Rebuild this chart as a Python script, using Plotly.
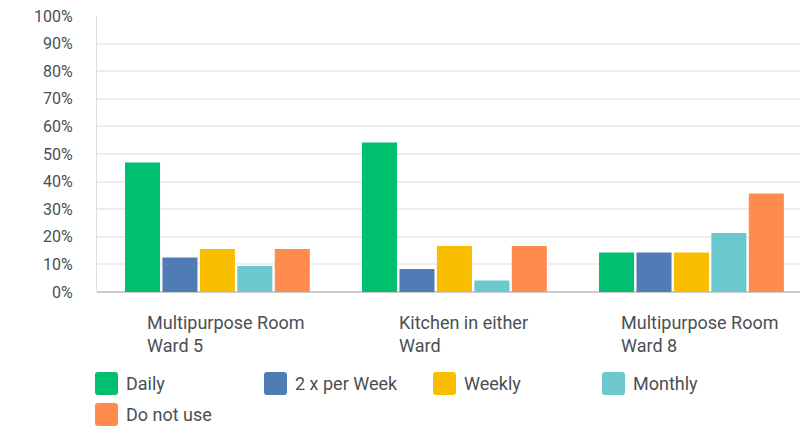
import plotly.graph_objects as go

# Survey responses: how often each room is used (% of respondents)
categories = ["Multipurpose Room<br>Ward 5", "Kitchen in either<br>Ward", "Multipurpose Room<br>Ward 8"]
series_names = ["Daily", "2 x per Week", "Weekly", "Monthly", "Do not use"]
daily = [46.9, 54.2, 14.3]
twice_weekly = [12.5, 8.3, 14.3]
weekly = [15.6, 16.7, 14.3]
monthly = [9.4, 4.2, 21.4]
do_not_use = [15.6, 16.7, 35.7]
y_ticks = list(range(0, 101, 10))
y_tick_labels = [f"{v}%" for v in y_ticks]

colors = ["#00BF6F", "#507CB6", "#F9BE00", "#6BC8CD", "#FF8B4F"]
values = [daily, twice_weekly, weekly, monthly, do_not_use]
x_idx = list(range(len(categories)))

FONT = "Roboto"
TEXT = "#4a4f55"

W, H = 800, 430
ML, MR, MT, MB = 97, 0, 16, 138
PW, PH = W - ML - MR, H - MT - MB


def px_to_paper(px, py):
    return (px - ML) / PW, (H - MB - py) / PH


fig = go.Figure()
for name, vals, col in zip(series_names, values, colors):
    fig.add_trace(go.Bar(x=x_idx, y=vals, name=name, showlegend=False,
                         marker=dict(color=col, line=dict(width=0))))

# Category labels, left-aligned two-line blocks under each group
for i, cat in enumerate(categories):
    fig.add_annotation(x=i, y=0, xref="x", yref="y", text=cat, showarrow=False,
                       xanchor="center", yanchor="top", align="left", yshift=-18, xshift=9,
                       font=dict(family=FONT, size=18, color=TEXT))

# Legend: rounded colour swatches with labels, four per row
SW = 23          # swatch size (px)
STEP_X = 169     # column spacing (px)
ROW_CY = [383.5, 414.5]
LEG_X0 = 95
r = 3
swatch_path = (f"M {r},{-SW/2} L {SW-r},{-SW/2} Q {SW},{-SW/2} {SW},{-SW/2+r} "
               f"L {SW},{SW/2-r} Q {SW},{SW/2} {SW-r},{SW/2} L {r},{SW/2} "
               f"Q 0,{SW/2} 0,{SW/2-r} L 0,{-SW/2+r} Q 0,{-SW/2} {r},{-SW/2} Z")
for k, (name, col) in enumerate(zip(series_names, colors)):
    row, c = divmod(k, 4)
    sx = LEG_X0 + c * STEP_X
    ax, ay = px_to_paper(sx, ROW_CY[row])
    fig.add_shape(type="path", xref="paper", yref="paper", xsizemode="pixel", ysizemode="pixel",
                  xanchor=ax, yanchor=ay, path=swatch_path, fillcolor=col, line=dict(width=0))
    tx, ty = px_to_paper(sx + SW + 6, ROW_CY[row])
    fig.add_annotation(x=tx, y=ty, xref="paper", yref="paper", text=name, showarrow=False,
                       xanchor="left", yanchor="middle", font=dict(family=FONT, size=18, color=TEXT))

fig.update_layout(
    width=W, height=H,
    margin=dict(l=ML, r=MR, t=MT, b=MB),
    paper_bgcolor="white", plot_bgcolor="white",
    barmode="group", bargap=0.21, bargroupgap=0.064,
    font=dict(family=FONT, size=16, color=TEXT),
    xaxis=dict(range=[-0.508, 2.458], showticklabels=False, showgrid=False, zeroline=False,
               showline=False, fixedrange=True),
    yaxis=dict(range=[0, 100], tickvals=y_ticks, ticktext=y_tick_labels, showgrid=True,
               gridcolor="#eeeeee", gridwidth=2, zeroline=True, zerolinecolor="#cccccc",
               zerolinewidth=2, showline=True, linecolor="#dddddd", linewidth=1,
               ticks="", ticklabelstandoff=20, tickfont=dict(family=FONT, size=16, color=TEXT)),
    showlegend=False,
)

fig.write_html("out.html")
